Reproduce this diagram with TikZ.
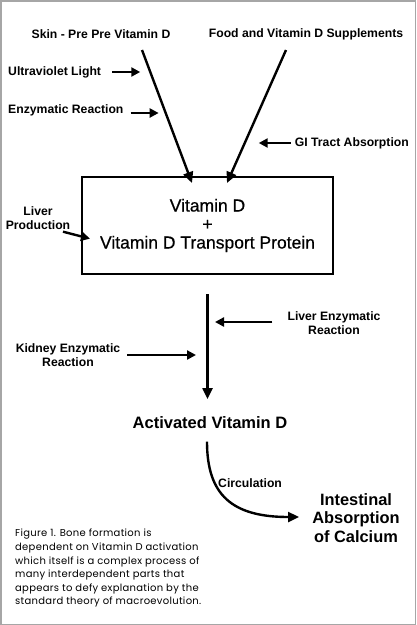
\documentclass[tikz,border=0pt]{standalone}
\usepackage{fontspec}
\setmainfont{Liberation Sans}
\newfontfamily\captionfont{Poppins}[LetterSpace=3]
\newfontfamily\boxfont{Liberation Sans}[FakeBold=0.6]
\usetikzlibrary{arrows.meta,positioning,calc}

\tikzset{
  lbl/.style={font=\bfseries\fontsize{12.2}{14}\selectfont,align=center,inner sep=1pt},
  bigarr/.style={line width=2.4pt,-{Triangle[length=11pt,width=10pt]}},
  sidearr/.style={line width=2.4pt,-{Triangle[length=9pt,width=9pt]}}
}

\begin{document}
\begin{tikzpicture}[x=1pt,y=-1pt]
	% frame
	\draw[gray!70,line width=1.5pt] (0.75,0.75) rectangle (415.25,624.25);

	\begin{scope}[every node/.style={lbl}]
		\node (skin) at (101,34) {Skin - Pre Pre Vitamin D};
		\node (food) at (306,34) {Food and Vitamin D Supplements};
		\node[anchor=west] (uv) at (7,72) {Ultraviolet Light};
		\node[anchor=west] (enz) at (7,110) {Enzymatic Reaction};
		\node[anchor=east] (gi) at (410,143) {GI Tract Absorption};
		\node (liver) at (38,218) {Liver\\Production};
		\node (livenz) at (334,323) {Liver Enzymatic\\Reaction};
		\node (kidney) at (68,355) {Kidney Enzymatic\\Reaction};
		\node[anchor=west] (circ) at (217,483) {Circulation};
	\end{scope}

	\node[draw,line width=2pt,minimum width=251pt,minimum height=97pt,
		align=center,font=\boxfont\fontsize{17.5}{18.5}\selectfont] (box) at (207.5,225.5)
		{Vitamin D\\+\\Vitamin D Transport Protein};
	\node[font=\bfseries\fontsize{16.5}{18}\selectfont] (act) at (210,423) {Activated Vitamin D};
	\node[font=\bfseries\fontsize{16.4}{18.5}\selectfont,align=center] (intest) at (356,518)
		{Intestinal\\Absorption\\of Calcium};
	\node[font=\captionfont\fontsize{10}{13.6}\selectfont,align=left,anchor=north west,inner sep=0pt]
		(cap) at (15,529) {Figure 1. Bone formation is\\dependent on Vitamin D activation\\which itself is a complex process of\\many interdependent parts that\\appears to defy explanation by the\\standard theory of macroevolution.};

	% line ends
	\coordinate (skinend) at (142,50);
	\coordinate (foodend) at (286,50);
	\coordinate (skintip) at (192,183);
	\coordinate (foodtip) at (227,183);

	\begin{scope}
		\path[draw,bigarr] (skinend) -- (skintip);
		\path[draw,bigarr] (foodend) -- (foodtip);
		\path[draw,sidearr] ($(uv.east)+(10,0)$) -- ++(28,0);
		\path[draw,sidearr] ($(enz.east)+(6,3)$) -- ++(28,0);
		\path[draw,sidearr] ($(gi.west)+(-3,0)$) -- ++(-32,0);
		\path[draw,sidearr] ($(liver.south)+(25,1)$) -- ++(27,7);
		\path[draw,bigarr] ($(box.south)+(0,19)$) -- ++(0,105);
		\path[draw,sidearr] ($(livenz.west)+(-14,-1)$) -- (215,322);
		\path[draw,sidearr] ($(kidney.east)+(6,0)$) -- (196,355);
		\path[draw,bigarr] ($(act.south)+(-3,9)$) .. controls (207,495) and (232,517) .. (299,517);
	\end{scope}
\end{tikzpicture}
\end{document}
